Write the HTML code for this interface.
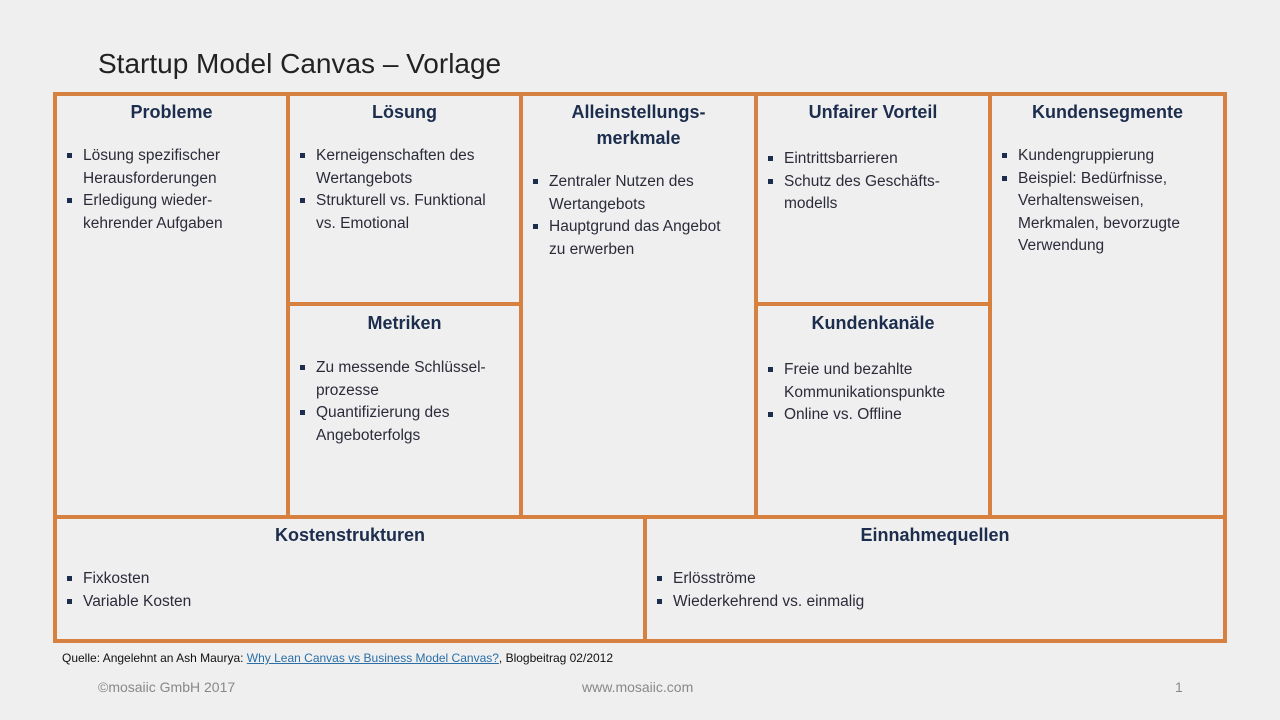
<!DOCTYPE html>
<html><head><meta charset="utf-8"><style>
body{margin:0;width:1280px;height:720px;background:#efefef;position:relative;overflow:hidden;font-family:"Liberation Sans",sans-serif}
.l{position:absolute;background:#d6813f}
.c{position:absolute;color:#2b2b3a;font-size:15.5px}
.c h{display:block;text-align:center;font-weight:bold;font-size:18px;color:#1c2d4d;line-height:26px}
.c ul{margin:0;padding:0 14px 0 0;list-style:none}
.c li{position:relative;padding-left:26px;line-height:22.5px}
.c li:before{content:"";position:absolute;left:10px;top:8px;width:5px;height:5px;background:#1c2d4d}
.t{position:absolute;left:98px;top:48px;font-size:28px;color:#222}
</style></head><body>
<div class="t">Startup Model Canvas – Vorlage</div>
<div class="l" style="left:53px;top:92px;width:1174px;height:4px"></div>
<div class="l" style="left:53px;top:639px;width:1174px;height:4px"></div>
<div class="l" style="left:53px;top:92px;width:4px;height:551px"></div>
<div class="l" style="left:1223px;top:92px;width:4px;height:551px"></div>
<div class="l" style="left:53px;top:515px;width:1174px;height:4px"></div>
<div class="l" style="left:286px;top:92px;width:4px;height:426px"></div>
<div class="l" style="left:519px;top:92px;width:4px;height:426px"></div>
<div class="l" style="left:754px;top:92px;width:4px;height:426px"></div>
<div class="l" style="left:988px;top:92px;width:4px;height:426px"></div>
<div class="l" style="left:286px;top:302px;width:236px;height:4px"></div>
<div class="l" style="left:754px;top:302px;width:236px;height:4px"></div>
<div class="l" style="left:643px;top:515px;width:4px;height:127px"></div>

<div class="c" style="left:57px;top:99px;width:229px"><h>Probleme</h><ul style="margin-top:20px"><li>Lösung spezifischer Herausforderungen</li><li>Erledigung wieder-kehrender Aufgaben</li></ul></div>
<div class="c" style="left:290px;top:99px;width:229px"><h>Lösung</h><ul style="margin-top:20px"><li>Kerneigenschaften des Wertangebots</li><li>Strukturell vs. Funktional vs. Emotional</li></ul></div>
<div class="c" style="left:523px;top:99px;width:231px"><h>Alleinstellungs-<br>merkmale</h><ul style="margin-top:20px"><li>Zentraler Nutzen des Wertangebots</li><li>Hauptgrund das Angebot zu erwerben</li></ul></div>
<div class="c" style="left:758px;top:99px;width:230px"><h>Unfairer Vorteil</h><ul style="margin-top:23px"><li>Eintrittsbarrieren</li><li>Schutz des Geschäfts-modells</li></ul></div>
<div class="c" style="left:992px;top:99px;width:231px"><h>Kundensegmente</h><ul style="margin-top:20px"><li>Kundengruppierung</li><li>Beispiel: Bedürfnisse, Verhaltensweisen, Merkmalen, bevorzugte Verwendung</li></ul></div>
<div class="c" style="left:290px;top:310px;width:229px"><h>Metriken</h><ul style="margin-top:21px"><li>Zu messende Schlüssel-prozesse</li><li>Quantifizierung des Angeboterfolgs</li></ul></div>
<div class="c" style="left:758px;top:310px;width:230px"><h>Kundenkanäle</h><ul style="margin-top:23px"><li>Freie und bezahlte Kommunikationspunkte</li><li>Online vs. Offline</li></ul></div>
<div class="c" style="left:57px;top:522px;width:586px"><h>Kostenstrukturen</h><ul style="margin-top:20px"><li>Fixkosten</li><li>Variable Kosten</li></ul></div>
<div class="c" style="left:647px;top:522px;width:576px"><h>Einnahmequellen</h><ul style="margin-top:20px"><li>Erlösströme</li><li>Wiederkehrend vs. einmalig</li></ul></div>

<div style="position:absolute;left:62px;top:651px;font-size:12px;color:#111">Quelle: Angelehnt an Ash Maurya: <span style="color:#2a6fa8;text-decoration:underline">Why Lean Canvas vs Business Model Canvas?</span>, Blogbeitrag 02/2012</div>
<div style="position:absolute;left:98px;top:679px;font-size:14px;color:#888">©mosaiic GmbH 2017</div>
<div style="position:absolute;left:582px;top:679px;font-size:14px;color:#888">www.mosaiic.com</div>
<div style="position:absolute;left:1175px;top:679px;font-size:14px;color:#888">1</div>
</body></html>
